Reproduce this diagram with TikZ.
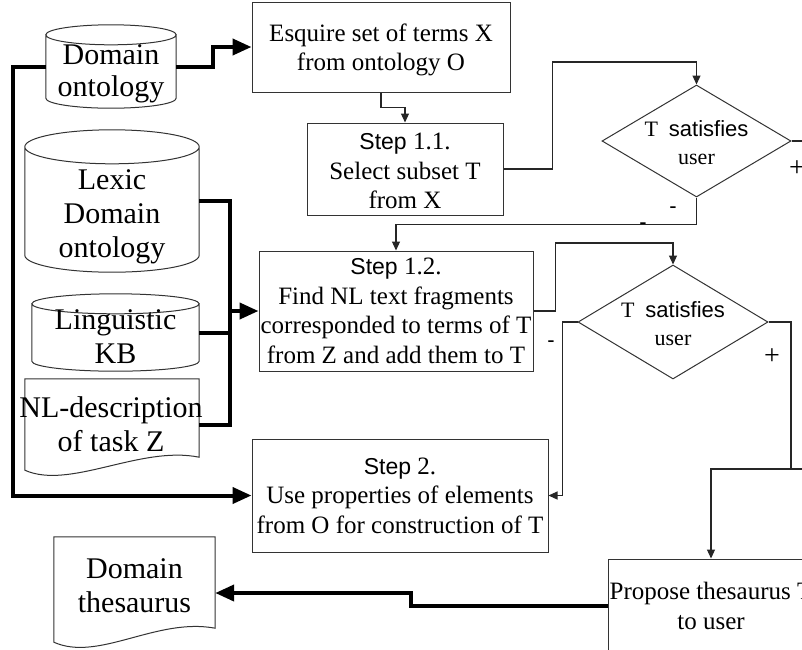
\documentclass[tikz,border=0pt]{standalone}
\usepackage{fontspec}
\setmainfont{Liberation Serif}
\setsansfont{Liberation Sans}
\usetikzlibrary{arrows.meta,calc,shapes.geometric}

\tikzset{
  box/.style={rectangle, draw=black!80, line width=1pt, inner sep=0pt, align=center,
    font=\fontsize{25}{29.5}\selectfont},
  store/.style={rectangle, inner sep=0pt},
  bigtext/.style={align=center, inner sep=0pt, font=\fontsize{30}{34}\selectfont},
  decision/.style={diamond, draw=black!80, line width=1pt, inner sep=0pt},
  dtext/.style={align=center, inner sep=0pt, font=\fontsize{22}{28}\selectfont},
  outline/.style={draw=black!80, line width=1pt},
  flowline/.style={draw=black!85, line width=1.1pt},
  flow/.style={flowline, -{Triangle[length=9pt,width=8pt]}},
  feed/.style={draw=black, line width=4pt},
  feedarrow/.style={feed, -{Triangle[length=19pt,width=16pt]}},
  minus/.style={inner sep=0pt, font=\sffamily\fontsize{22}{22}\selectfont},
  plus/.style={inner sep=0pt, font=\fontsize{28}{28}\selectfont},
}

% cylinder outline around an invisible frame node; #2 = vertical radius of the caps (pt)
\newcommand\cylout[2]{%
  \draw[outline] let \p1=(#1.north west), \p2=(#1.south east) in
    ($(#1.north west)+(0,-#2)$) -- ($(#1.south west)+(0,#2)$)
    arc[start angle=180, end angle=360, x radius={(\x2-\x1)/2}, y radius=#2pt]
    -- ($(#1.north east)+(0,-#2)$)
    ($(#1.north)+(0,-#2)$) ellipse[x radius={(\x2-\x1)/2}, y radius=#2pt];}

% document outline (wavy bottom) around an invisible frame node; #2 = rise of the right corner
\newcommand\docout[2]{%
  \draw[outline] (#1.south west) -- (#1.north west) -- (#1.north east)
    -- ([yshift=#2pt]#1.south east)
    .. controls ([shift={(-59pt,25pt)}]#1.south east) and ([shift={(45pt,-20pt)}]#1.south west)
    .. (#1.south west) -- cycle;}

\begin{document}
\begin{tikzpicture}[x=1pt,y=1pt]
\useasboundingbox (0,0) rectangle (802,-649);
\fill[white] (0,0) rectangle (802,-649);
\clip (0,0) rectangle (802,-649);

% --- process boxes
\node[box, minimum width=258pt, minimum height=90pt] (esq) at (381,-47)
  {\rule{0pt}{23pt}Esquire set of terms X\\from ontology O};
\node[box, minimum width=196pt, minimum height=92pt] (s11) at (405,-169)
  {\rule{0pt}{21pt}{\sffamily\fontsize{23}{29.5}\selectfont Step} 1.1.\\Select subset T\\from X};
\node[box, minimum width=274pt, minimum height=120pt] (s12) at (396,-311)
  {{\sffamily\fontsize{23}{29.5}\selectfont Step} 1.2.\\Find NL text fragments\\corresponded to terms of T\\from Z and add them to T};
\node[box, minimum width=296pt, minimum height=113pt] (s2) at (400,-495.5)
  {{\sffamily\fontsize{23}{29.5}\selectfont Step} 2.\\Use properties of elements\\from O for construction of T};
\node[box, minimum width=206pt, minimum height=94pt] (prop) at (711,-606)
  {Propose thesaurus T\\to user};

% --- decisions
\node[decision, minimum width=189pt, minimum height=112pt] (d1) at (696.5,-141) {};
\node[dtext] (d1text) at (696.5,-143) {T\ \ {\sffamily satisfies}\\user};
\node[decision, minimum width=190pt, minimum height=114pt] (d2) at (673,-322) {};
\node[dtext] (d2text) at (673,-324) {T\ \ {\sffamily satisfies}\\user};

% --- data stores
\node[store, minimum width=130pt, minimum height=83pt] (dont) at (111,-66.5) {};
\cylout{dont}{10}
\node[bigtext, font=\fontsize{30}{32}\selectfont] (donttext) at (111,-74) {Domain\\ontology};

\node[store, minimum width=174pt, minimum height=142pt] (lex) at (112,-201) {};
\cylout{lex}{17}
\node[bigtext] (lextext) at (112,-217) {Lexic\\Domain\\ontology};

\node[store, minimum width=167pt, minimum height=77pt] (ling) at (115.5,-332.5) {};
\cylout{ling}{10}
\node[bigtext] (lingtext) at (115.5,-337) {Linguistic\\KB};

% --- documents
\node[store, minimum width=174pt, minimum height=91pt] (nld) at (112,-424.5) {};
\docout{nld}{13}
\node[bigtext] (nldtext) at (111,-424) {NL-description\\of task Z};

\node[store, minimum width=161pt, minimum height=105pt] (dthes) at (134.5,-589.5) {};
\docout{dthes}{14}
\node[bigtext] (dthestext) at (134.5,-586) {Domain\\thesaurus};

% --- thin flow connectors
\draw[flow] (esq.south) -- ++(0,-15) -| (s11.north);
\draw[flow] (s11.east) -| ++(49,107) -| (d1.north);
\draw[flow] (d1.south) -- ++(0,-27) -| (s12.north);
\draw[flow] (s12.east) -| ++(22,68) -| (d2.north);
\draw[flow] (d2.west) -- ++(-15,0) |- (s2.east);
\coordinate (merge) at (791,-469);
\draw[flowline] (d1.east) -- ++(30,0) |- (merge);
\draw[flow] (d2.east) -| (merge) -| (prop.north);

% --- thick data connectors
\draw[feedarrow] (dont.east) -- ++(37,0) |- (esq.west);
\draw[feedarrow] (dont.west) -- ++(-33,0) |- (s2.west);
\coordinate (bus) at ($(lex.east)+(31,0)$);
\draw[feed] (lex.east) -- (bus) |- (nld.east);
\draw[feed] (ling.east) -- (ling.east -| bus);
\draw[feedarrow] (s12.west -| bus) -- (s12.west);
\draw[feedarrow] (prop.west) -- ++(-197,0) |- ([yshift=-3.5pt]dthes.east);

% --- branch signs
\node[minus] (m1) at (673,-210) {-};
\node[minus] (m2) at (643,-226) {-};
\node[minus] (m3) at (551,-344) {-};
\node[plus] (p1) at (772,-357) {+};
\node[plus] (p2) at (797,-169) {+};
\end{tikzpicture}
\end{document}
